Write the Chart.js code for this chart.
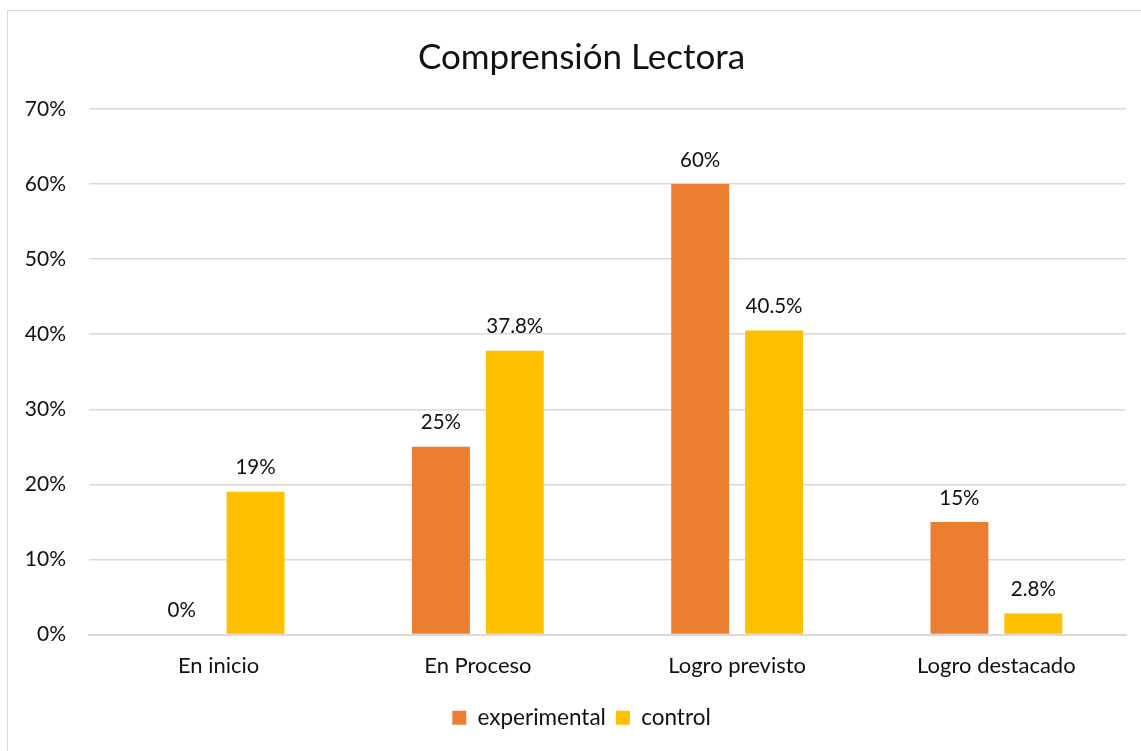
<!DOCTYPE html>
<html>
<head>
<meta charset="utf-8">
<script src="https://cdn.jsdelivr.net/npm/chart.js@4/dist/chart.umd.min.js"></script>
<style>
  html, body { margin: 0; padding: 0; background: #fff; }
  #wrap { position: relative; width: 1141px; height: 751px; overflow: hidden; }
  #frame { position: absolute; left: 7px; top: 10px; width: 1150px; height: 760px; border: 1px solid #d9d9d9; box-sizing: border-box; }
  #c { position: absolute; left: 0; top: 0; }
</style>
</head>
<body>
<div id="wrap">
  <div id="frame"></div>
  <canvas id="c" width="1163" height="751"></canvas>
</div>
<script>
const categories = ["En inicio", "En Proceso", "Logro previsto", "Logro destacado"];
const experimental = [0, 25, 60, 15];
const control = [19, 37.8, 40.5, 2.8];
const yTicks = [0, 10, 20, 30, 40, 50, 60, 70];

const FONT = "Lato, 'Open Sans', sans-serif";
const TEXT = "#111111";

function fmt(v) {
  return Number.isInteger(v) ? v + "%" : v.toFixed(1) + "%";
}

const valueLabels = {
  id: "valueLabels",
  afterDatasetsDraw(chart) {
    const ctx = chart.ctx;
    ctx.save();
    ctx.font = "20.5px " + FONT;
    ctx.fillStyle = TEXT;
    ctx.textAlign = "center";
    ctx.textBaseline = "middle";
    chart.data.datasets.forEach((ds, i) => {
      const meta = chart.getDatasetMeta(i);
      meta.data.forEach((bar, j) => {
        ctx.fillText(fmt(ds.data[j]), bar.x, bar.y - 24);
      });
    });
    ctx.restore();
  }
};

new Chart(document.getElementById("c"), {
  type: "bar",
  data: {
    labels: categories,
    datasets: [
      { label: "experimental", data: experimental, backgroundColor: "#ED7D31" },
      { label: "control", data: control, backgroundColor: "#FFC000" }
    ]
  },
  options: {
    responsive: false,
    animation: false,
    devicePixelRatio: 1,
    categoryPercentage: 0.57,
    barPercentage: 0.784,
    layout: { padding: { left: 0, right: 0, top: 0, bottom: 12 } },
    plugins: {
      title: {
        display: true,
        text: "Comprensión Lectora",
        color: TEXT,
        font: { family: FONT, size: 35, weight: "normal" },
        padding: { top: 37, bottom: 30 }
      },
      legend: {
        position: "bottom",
        labels: {
          color: TEXT,
          font: { family: FONT, size: 22.5 },
          boxWidth: 14,
          boxHeight: 14,
          padding: 10
        }
      },
      tooltip: { enabled: false }
    },
    scales: {
      x: {
        grid: { display: false },
        border: { color: "#d9d9d9", width: 2 },
        ticks: { color: TEXT, font: { family: FONT, size: 22 }, padding: 10 },
        afterFit(scale) { scale.height = 62; }
      },
      y: {
        min: 0,
        max: 70,
        afterBuildTicks(scale) { scale.ticks = yTicks.map(v => ({ value: v })); },
        grid: { color: "#d9d9d9", lineWidth: 1.5, drawTicks: false },
        border: { display: false },
        ticks: {
          color: TEXT,
          font: { family: FONT, size: 21 },
          padding: 23,
          callback: v => v + "%"
        },
        afterFit(scale) { scale.width = 89; }
      },
      spacer: {
        position: "right",
        min: 0,
        max: 70,
        grid: { display: false, drawTicks: false },
        border: { display: false },
        ticks: { display: false },
        afterFit(scale) { scale.width = 37; }
      }
    }
  },
  plugins: [valueLabels]
});
</script>
</body>
</html>
